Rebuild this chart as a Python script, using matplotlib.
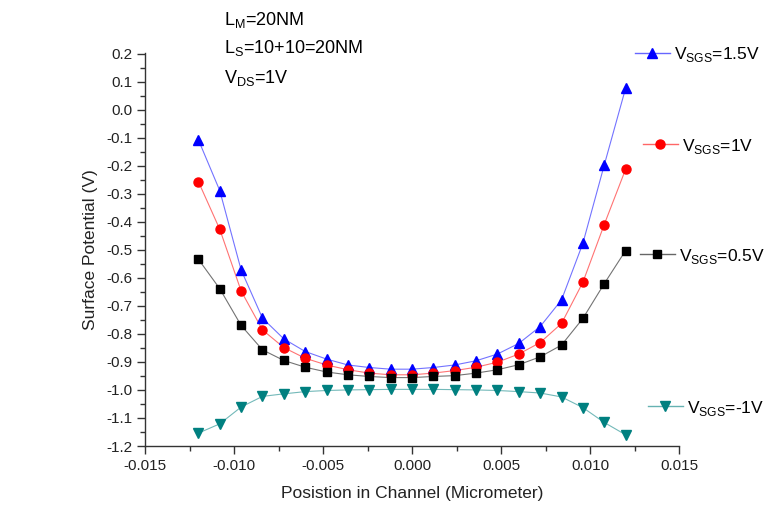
import matplotlib
matplotlib.use('Agg')
import matplotlib.pyplot as plt
import numpy as np
from matplotlib.ticker import MultipleLocator, FuncFormatter
from matplotlib.lines import Line2D

plt.rcParams['font.family'] = ['Liberation Sans', 'DejaVu Sans']
plt.rcParams['mathtext.fontset'] = 'custom'
plt.rcParams['mathtext.rm'] = 'Liberation Sans'

# 数据
position = [-0.012, -0.0108, -0.0096, -0.0084, -0.0072, -0.006, -0.0048, -0.0036, -0.0024, -0.0012, 0.0,
            0.0012, 0.0024, 0.0036, 0.0048, 0.006, 0.0072, 0.0084, 0.0096, 0.0108, 0.012]
v_15 = [-0.108, -0.289, -0.572, -0.744, -0.818, -0.863, -0.890, -0.911, -0.920, -0.926, -0.926,
        -0.920, -0.911, -0.896, -0.872, -0.834, -0.774, -0.679, -0.477, -0.198, 0.076]
v_10 = [-0.257, -0.427, -0.647, -0.786, -0.849, -0.887, -0.911, -0.928, -0.940, -0.946, -0.946,
        -0.940, -0.931, -0.919, -0.901, -0.872, -0.831, -0.763, -0.616, -0.410, -0.213]
v_05 = [-0.534, -0.639, -0.770, -0.857, -0.895, -0.919, -0.936, -0.946, -0.952, -0.956, -0.956,
        -0.952, -0.949, -0.940, -0.928, -0.910, -0.882, -0.840, -0.745, -0.621, -0.503]
v_m1 = [-1.154, -1.121, -1.061, -1.023, -1.014, -1.006, -1.002, -1.000, -0.999, -0.998, -0.998,
        -0.998, -0.999, -1.000, -1.002, -1.006, -1.011, -1.025, -1.063, -1.116, -1.160]


# 刻度格式，避免出现 -0.0
def fmt_x(v, pos):
    return '%.3f' % (0.0 if abs(v) < 1e-9 else v)


def fmt_y(v, pos):
    return '%.1f' % (0.0 if abs(v) < 1e-9 else v)


W, H = 780, 509
fig = plt.figure(figsize=(7.8, 5.09), dpi=100)
ax = fig.add_axes([145 / W, 1 - 446 / H, (679 - 145) / W, (446 - 53.5) / H])

series = [
    (v_15, 'V$_\\mathregular{SGS}$=1.5V', '#0000ff', '^', 7.5, (654, 55)),
    (v_10, 'V$_\\mathregular{SGS}$=1V', '#ff0000', 'o', 6.5, (662, 146)),
    (v_05, 'V$_\\mathregular{SGS}$=0.5V', '#000000', 's', 6, (659, 256)),
    (v_m1, 'V$_\\mathregular{SGS}$=-1V', '#008080', 'v', 7.5, (667, 408)),
]

for vals, lab, col, mk, ms, (lx, ly) in series:
    ax.plot(position, vals, color=col, linestyle='none',
            marker=mk, markersize=ms, zorder=3)
    ax.plot(position, vals, color=col, linewidth=0.8, alpha=0.55, zorder=2)
    # 图例（每条曲线单独一个）
    h = Line2D([0], [0], color=col, linewidth=1.0, alpha=0.6)
    hm = Line2D([0], [0], color=col, linestyle='none', marker=mk, markersize=ms)
    fig.legend(handles=[(h, hm)], labels=[lab], loc='center left',
               bbox_to_anchor=((lx - 19) / W, 1 - ly / H), frameon=False,
               fontsize=12.5, handlelength=2.0, handletextpad=0.25,
               borderpad=0, borderaxespad=0)

ax.set_xlim(-0.015, 0.015)
ax.set_ylim(-1.2, 0.2)
ax.xaxis.set_major_locator(MultipleLocator(0.005))
ax.xaxis.set_minor_locator(MultipleLocator(0.0025))
ax.yaxis.set_major_locator(MultipleLocator(0.1))
ax.yaxis.set_minor_locator(MultipleLocator(0.05))
ax.xaxis.set_major_formatter(FuncFormatter(fmt_x))
ax.yaxis.set_major_formatter(FuncFormatter(fmt_y))

ax.spines['top'].set_visible(False)
ax.spines['right'].set_visible(False)
for s in ['left', 'bottom']:
    ax.spines[s].set_color('#333333')
    ax.spines[s].set_linewidth(1.0)
ax.tick_params(which='major', direction='out', length=6, width=1, color='#333333',
               labelsize=11, labelcolor='#222222')
ax.tick_params(which='minor', direction='out', length=3.5, width=1, color='#333333')
ax.tick_params(axis='y', pad=3)

ax.set_xlabel('Posistion in Channel (Micrometer)', fontsize=12.5, color='#222222', labelpad=9)
ax.set_ylabel('Surface Potential (V)', fontsize=12.5, color='#222222', labelpad=6)

# 参数说明
fig.text(224 / W, 1 - 20 / H, 'L$_\\mathregular{M}$=20NM', fontsize=13, va='center', ha='left')
fig.text(224 / W, 1 - 48 / H, 'L$_\\mathregular{S}$=10+10=20NM', fontsize=13, va='center', ha='left')
fig.text(224 / W, 1 - 78 / H, 'V$_\\mathregular{DS}$=1V', fontsize=13, va='center', ha='left')

plt.savefig('out.png', dpi=100)
